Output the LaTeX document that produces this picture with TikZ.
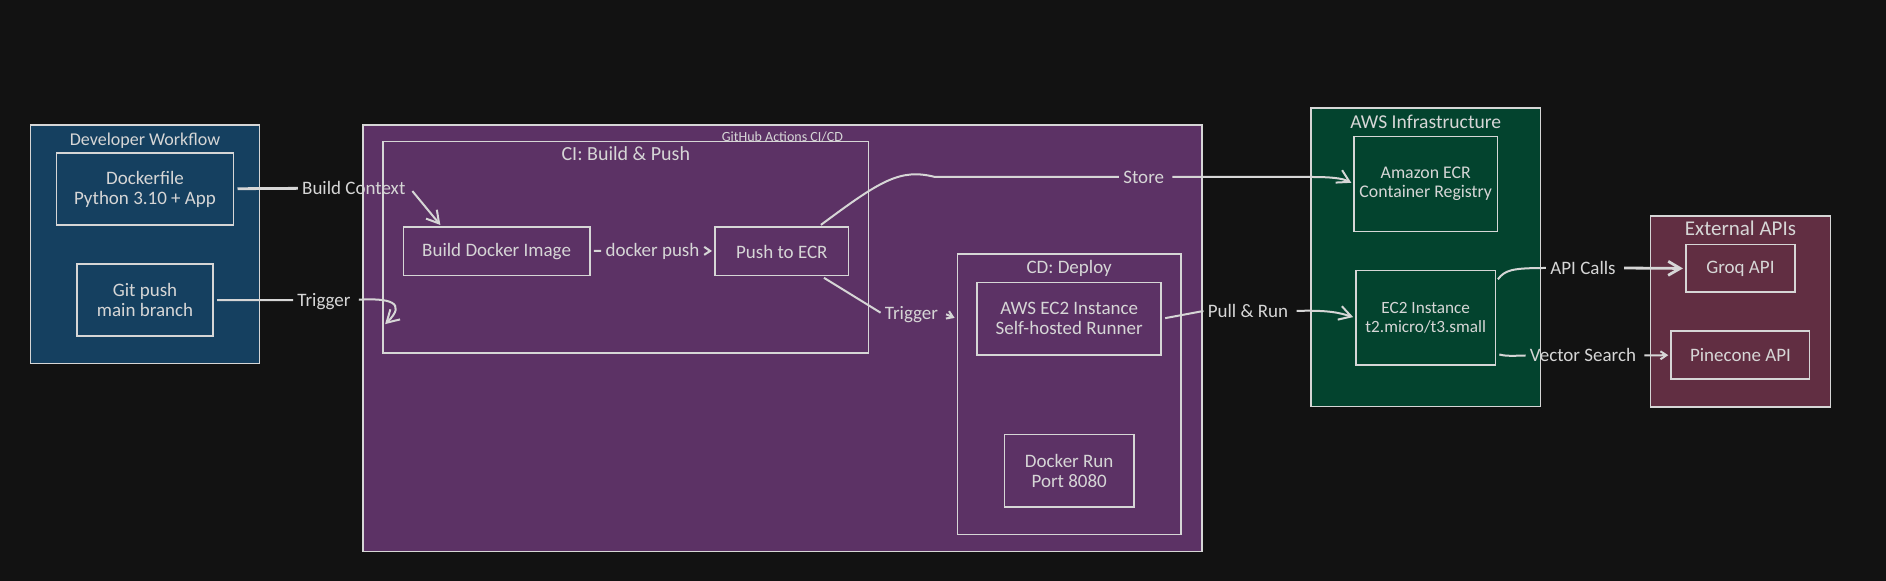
\documentclass[tikz,border=0pt]{standalone}
\usepackage{fontspec}
\setmainfont{Carlito}
\usepackage{xcolor}
\usetikzlibrary{arrows.meta,positioning}
\definecolor{bgc}{RGB}{18,18,18}
\definecolor{inkc}{RGB}{214,214,214}
\definecolor{c1}{RGB}{21,64,96}
\definecolor{c2}{RGB}{92,50,101}
\definecolor{c3}{RGB}{3,67,46}
\definecolor{c4}{RGB}{97,46,66}
\tikzset{
  grp/.style={draw=inkc, line width=0.8pt, inner sep=0pt, outer sep=0pt},
  box/.style={draw=inkc, line width=0.8pt, inner sep=0pt, outer sep=0pt, align=center, text=inkc, font=\fontsize{9.5}{10}\selectfont},
  title/.style={inner sep=0pt, text=inkc, text height=8pt, text depth=1.5pt, font=\fontsize{9.5}{10}\selectfont},
  lbl/.style={inner sep=2pt, text=inkc, text height=8pt, text depth=1.5pt, font=\fontsize{9.5}{10}\selectfont},
  line/.style={draw=inkc, line width=1pt, shorten <=2pt},
  edge/.style={line, -{Straight Barb[length=6pt,width=7pt]}, shorten >=1.5pt}
}
\begin{document}
\begin{tikzpicture}[x=0.5pt, y=-0.5pt]
    \useasboundingbox (0,0) rectangle (1886,581);
    \fill[bgc] (0,0) rectangle (1886,581);

    % Nodes
    \node[grp, fill=c1, minimum width=114.5pt, minimum height=119.2pt] (dev) at (145,244.5) {};
    \node[title, font=\fontsize{9}{10}\selectfont, below=2pt of dev.north] (devtitle) {Developer Workflow};
    \node[box, minimum width=88.5pt, minimum height=36pt, below=14pt of dev.north] (dockerfile) {Dockerfile\\Python 3.10 + App};
    \node[box, minimum width=68.2pt, minimum height=36pt, below=19.5pt of dockerfile] (gitpush) {Git push\\main branch};

    \node[grp, fill=c2, minimum width=419.4pt, minimum height=213.2pt] (gh) at (782.4,338.5) {};
    \node[title, font=\fontsize{7}{8}\selectfont, below=0pt of gh.north] (ghtitle) {GitHub Actions CI/CD};

    \node[grp, minimum width=242.8pt, minimum height=105.6pt, below right=8.2pt and 10pt of gh.north west] (ci) {};
    \node[title, font=\fontsize{10}{10}\selectfont, below=1.25pt of ci.north] (cititle) {CI: Build \& Push};
    \node[box, minimum width=93.2pt, minimum height=24.2pt, below right=42.8pt and 10.2pt of ci.north west] (build) {Build Docker Image};
    \node[box, minimum width=66.8pt, minimum height=24.2pt, right=62.6pt of build] (push) {Push to ECR};

    \node[grp, minimum width=111.8pt, minimum height=140.2pt, below left=64.5pt and 10.4pt of gh.north east] (cd) {};
    \node[title, below=1.2pt of cd.north] (cdtitle) {CD: Deploy};
    \node[box, minimum width=92pt, minimum height=36.2pt, below=14.2pt of cd.north] (runner) {AWS EC2 Instance\\Self-hosted Runner};
    \node[box, minimum width=64.7pt, minimum height=36.4pt, below=39.65pt of runner] (dockerrun) {Docker Run\\Port 8080};

    \node[grp, fill=c3, minimum width=114.8pt, minimum height=149.2pt] (aws) at (1425.75,257.5) {};
    \node[title, font=\fontsize{9.8}{10}\selectfont, below=1.85pt of aws.north] (awstitle) {AWS Infrastructure};
    \node[box, font=\fontsize{8.9}{9.5}\selectfont, minimum width=71.8pt, minimum height=47.5pt, below=14.2pt of aws.north] (ecr) {Amazon ECR\\Container Registry};
    \node[box, font=\fontsize{8.6}{9.5}\selectfont, minimum width=69.7pt, minimum height=47.3pt, below=19.5pt of ecr] (ec2) {EC2 Instance\\t2.micro/t3.small};

    \node[grp, fill=c4, minimum width=90pt, minimum height=95.4pt] (ext) at (1740.45,311.65) {};
    \node[title, font=\fontsize{10.5}{10}\selectfont, below=1.45pt of ext.north] (exttitle) {External APIs};
    \node[box, minimum width=54.5pt, minimum height=23.8pt, below=14.2pt of ext.north] (groq) {Groq API};
    \node[box, minimum width=69.2pt, minimum height=23.9pt, below=19.5pt of groq] (pinecone) {Pinecone API};

    % Labels
    \node[lbl] (ctx) at (353.8,188) {Build Context};
    \node[lbl] (trig) at (324,300) {Trigger};
    \node[lbl] (dpush) at (652.5,250.5) {docker push};
    \node[lbl] (store) at (1143.7,177) {Store};
    \node[lbl] (trigcd) at (911.5,312.7) {Trigger};
    \node[lbl] (pull) at (1248,311) {Pull \& Run};
    \node[lbl] (apicalls) at (1583,268) {API Calls};
    \node[lbl] (vsearch) at (1583,355.5) {Vector Search};

    % Edges
    \draw[line, line width=1.4pt] (dockerfile) -- (ctx);
    \draw[edge] (ctx.east) -- (build.156);
    \draw[line] (gitpush) -- (trig);
    \draw[edge] (trig.east) .. controls (388,298) and (408,302) .. (ci.198.45);
    \draw[line] (build) -- (dpush);
    \draw[edge, -{Straight Barb[length=3pt,width=4pt]}] (dpush) -- (push);
    \draw[line] (push.34) .. controls (880,181) and (900,168) .. (935,177) -- (store.west);
    \draw[edge] (store.east) -- (1311,177) .. controls (1330,177) and (1342,178) .. (ecr.west);
    \draw[line] (push.-32) -- (trigcd.west);
    \draw[edge, -{Straight Barb[length=3pt,width=4pt]}] (trigcd.east) -- (cd.146.3);
    \draw[line] (runner.east) -- (pull.west);
    \draw[edge] (pull.east) .. controls (1330,310) and (1340,313) .. (ec2.west);
    \draw[line] (ec2.27) .. controls (1505,270) and (1512,268) .. (apicalls.west);
    \draw[edge, line width=1.4pt] (apicalls.east) -- (groq.west);
    \draw[line] (ec2.-27) .. controls (1505,356) and (1510,356) .. (vsearch.west);
    \draw[edge, -{Straight Barb[length=3pt,width=4pt]}] (vsearch.east) -- (pinecone.west);
\end{tikzpicture}
\end{document}
